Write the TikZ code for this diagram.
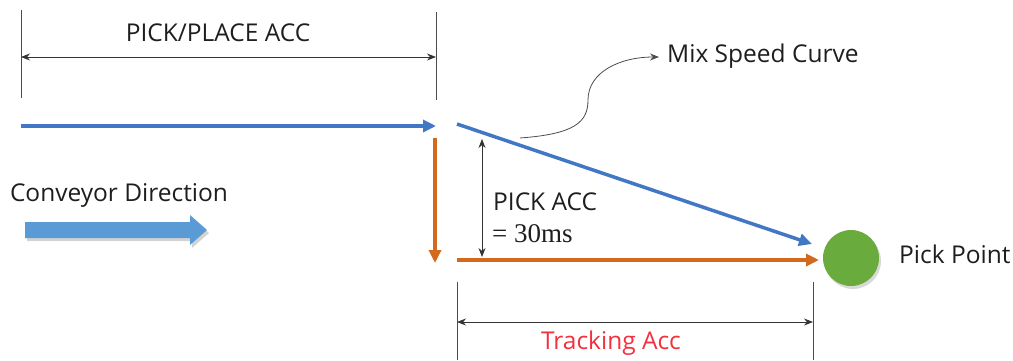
\documentclass[tikz,border=0pt]{standalone}
\usepackage{fontspec}
\setmainfont{Open Sans}
\newfontfamily\serifnum{Liberation Serif}
\usetikzlibrary{arrows.meta,shadows}
\definecolor{cblue}{HTML}{4177C4}
\definecolor{corange}{HTML}{D2691E}
\definecolor{blockblue}{HTML}{5B9BD5}
\definecolor{cgreen}{HTML}{6AAB3E}
\definecolor{cred}{HTML}{F2303E}
\definecolor{ctext}{HTML}{1E1E1E}
\tikzset{
  guide/.style={draw=black!70, line width=0.8pt},
  dimarrow/.style={draw=black!80, line width=0.8pt, {Stealth[length=9pt,width=7pt]}-{Stealth[length=9pt,width=7pt]}},
  bluearrow/.style={draw=cblue, line width=3.5pt, -{Triangle[length=13pt,width=12pt]}},
  orangearrow/.style={draw=corange, line width=3.5pt, -{Triangle[length=13pt,width=12pt]}},
  lbl/.style={text=ctext, font=\fontsize{24.5}{28}\selectfont, inner sep=0pt}
}
\begin{document}
\begin{tikzpicture}[x=1pt,y=-1pt]
\useasboundingbox (0,0) rectangle (1013,360);
% guide lines top
\coordinate (g1t) at (21,10); \coordinate (g1b) at (21,98);
\coordinate (g2t) at (436,12); \coordinate (g2b) at (436,100);
\draw[guide] (g1t) -- (g1b);
\draw[guide] (g2t) -- (g2b);
\coordinate (d1a) at (21,57); \coordinate (d1b) at (436,57);
\draw[dimarrow] (d1a) -- (d1b);
\node[lbl] (ppacc) at (218,33) {PICK/PLACE ACC};
% blue conveyor arrow
\coordinate (b1s) at (21,126); \coordinate (b1e) at (436,126);
\draw[bluearrow] (b1s) -- (b1e);
% diagonal
\coordinate (b2s) at (457,124); \coordinate (b2e) at (812,244);
\draw[bluearrow] (b2s) -- (b2e);
% orange
\coordinate (o1s) at (435,138); \coordinate (o1e) at (435,263);
\draw[orangearrow] (o1s) -- (o1e);
\coordinate (o2s) at (457,260); \coordinate (o2e) at (819,260);
\draw[orangearrow] (o2s) -- (o2e);
% pick acc dim
\coordinate (pa1) at (482,139); \coordinate (pa2) at (482,257);
\draw[dimarrow] (pa1) -- (pa2);
\node[lbl, anchor=west] (pickacc) at (493,202) {PICK ACC};
\node[text=ctext, font=\serifnum\fontsize{27}{30}\selectfont, inner sep=0pt, anchor=west] (ms) at (492,234) {= 30ms};
% mix speed curve
\coordinate (mc1) at (520,138);
\coordinate (mc2) at (659,57);
\node[lbl, anchor=west] (mix) at (667,56) {Mix Speed Curve};
\draw[draw=black!70, line width=0.8pt, -{Stealth[length=9pt,width=7pt]}] (mc1) .. controls (575,134) and (588,122) .. (588,100) .. controls (588,72) and (620,57) .. (mc2);
% conveyor direction
\node[lbl] (conv) at (119,195) {Conveyor Direction};
\fill[blockblue, drop shadow={opacity=0.35, shadow xshift=2pt, shadow yshift=-3pt}]
  (25,222) -- (190,222) -- (190,215) -- (207,230) -- (190,245) -- (190,238) -- (25,238) -- cycle;
% green circle
\node[circle, fill=cgreen, minimum size=56pt, inner sep=0pt, drop shadow={opacity=0.3, shadow xshift=2pt, shadow yshift=-3pt}] (pick) at (851,258) {};
\node[lbl, anchor=west] (pp) at (899,254) {Pick Point};
% tracking acc
\coordinate (g3t) at (457,282); \coordinate (g3b) at (457,360);
\coordinate (g4t) at (813,282); \coordinate (g4b) at (813,360);
\draw[guide] (g3t) -- (g3b);
\draw[guide] (g4t) -- (g4b);
\coordinate (d2a) at (457,322); \coordinate (d2b) at (813,322);
\draw[dimarrow] (d2a) -- (d2b);
\node[lbl, text=cred] (track) at (611,343) {Tracking Acc};
\end{tikzpicture}
\end{document}
